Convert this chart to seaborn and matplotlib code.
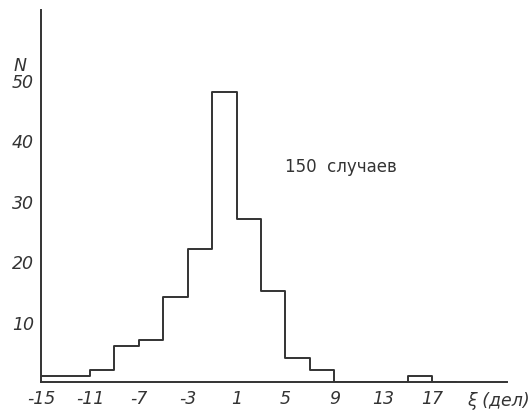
import numpy as np
import matplotlib
matplotlib.use("Agg")
import matplotlib.pyplot as plt
import seaborn as sns

# bin edges (deviation, divisions) and counts
bin_edges = [-15, -13, -11, -9, -7, -5, -3, -1, 1, 3, 5, 7, 9, 11, 13, 15, 17, 19]
counts = [1, 1, 2, 6, 7, 14, 22, 48, 27, 15, 4, 2, 0, 0, 0, 1, 0]
x_ticks = [-15, -11, -7, -3, 1, 5, 9, 13, 17]
y_ticks = [10, 20, 30, 40, 50]
annotation = "150  случаев"

sns.set_style("white")
plt.rcParams['font.family'] = ['DejaVu Sans']

centers = [(a + b) / 2 for a, b in zip(bin_edges[:-1], bin_edges[1:])]

fig = plt.figure(figsize=(5.31, 4.14), dpi=100)
ax = fig.add_axes([41/531, 31/414, (507-41)/531, (383-11)/414])

ink = "#333333"
sns.histplot(x=centers, weights=counts, bins=bin_edges, element="step",
             fill=False, color=ink, linewidth=1.4, ax=ax)

ax.set_xlim(-15, -15 + (507-41)/12.22)
ax.set_ylim(0, 372/6.04)
for s in ['top', 'right']:
    ax.spines[s].set_visible(False)
for s in ['left', 'bottom']:
    ax.spines[s].set_color(ink)
    ax.spines[s].set_linewidth(1.4)

ax.set_xticks(x_ticks)
ax.set_xticklabels([str(t) for t in x_ticks], fontsize=12.5, style='italic', color=ink)
ax.set_yticks(y_ticks)
ax.set_yticklabels([str(t) for t in y_ticks], fontsize=12.5, style='italic', color=ink)
ax.tick_params(axis='both', direction='inout', length=4, width=1.1, color=ink, pad=3)
ax.set_xlabel("")
ax.set_ylabel("")

fig.text(20/531, 1 - 66/414, "N", fontsize=12.5, style='italic', color=ink, ha='center', va='center')
fig.text(498/531, 1 - 401/414, "ξ (дел)", fontsize=12.5, style='italic', color=ink, ha='center', va='center')
ax.text(5.0, 35.8, annotation, fontsize=12, color=ink, ha='left', va='center')

fig.savefig("out.png", dpi=100)
